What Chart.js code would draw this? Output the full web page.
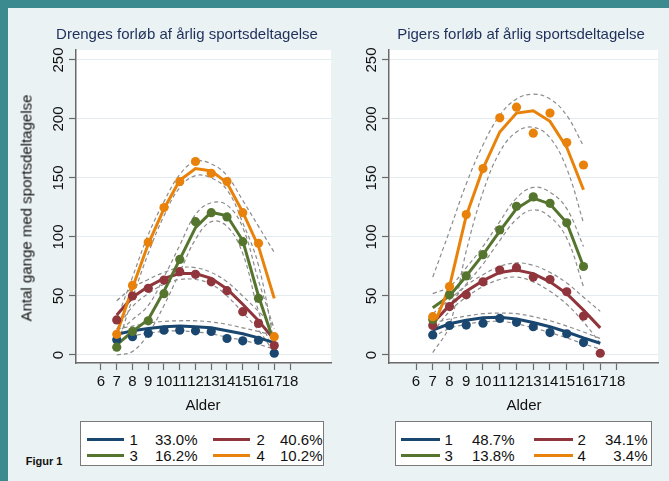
<!DOCTYPE html>
<html><head><meta charset="utf-8">
<script src="https://cdn.jsdelivr.net/npm/chart.js@4.4.1/dist/chart.umd.min.js"></script>
<style>
html,body{margin:0;padding:0;}
body{width:669px;height:481px;background:#3b8a8f;position:relative;overflow:hidden;font-family:"Liberation Sans",Arial,Helvetica,sans-serif;}
#panel{position:absolute;left:8px;top:8px;width:661px;height:473px;background:#eaf2f3;}
canvas{position:absolute;}
.t{position:absolute;white-space:nowrap;transform:translate(-50%,-50%);line-height:1;}
.title{font-size:15px;color:#1e2f5a;}
.ax{font-size:15px;color:#111;}
.box{position:absolute;top:421px;height:43px;background:#fff;border:1.5px solid #7a7a7a;}
.ln{position:absolute;height:3px;}
.lt{position:absolute;font-size:15px;color:#111;line-height:1;white-space:nowrap;}
.r{transform:translate(-100%,-50%);}
.l{transform:translate(0,-50%);}
</style></head>
<body>
<div id="panel"></div>
<canvas id="cb" width="330" height="392" style="left:8px;top:8px;width:330px;height:392px"></canvas>
<canvas id="cg" width="331" height="392" style="left:338px;top:8px;width:331px;height:392px"></canvas>

<div class="t title" style="left:187px;top:33px">Drenges forløb af årlig sportsdeltagelse</div>
<div class="t title" style="left:521px;top:33px">Pigers forløb af årlig sportsdeltagelse</div>
<div class="t ax" style="left:26px;top:208px;transform:translate(-50%,-50%) rotate(-90deg)">Antal gange med sportsdeltagelse</div>
<div class="t ax" style="left:203px;top:404px">Alder</div>
<div class="t ax" style="left:524px;top:404px">Alder</div>
<div class="t" style="left:44px;top:461px;font-size:11px;font-weight:bold;color:#111">Figur 1</div>

<div id="legB" class="box" style="left:80px;width:242px"></div>
<div id="legG" class="box" style="left:395px;width:255px"></div>

<script>
// ---- data ----
const ages = [7, 8, 9, 10, 11, 12, 13, 14, 15, 16, 17];
const xTickValues = [6, 7, 8, 9, 10, 11, 12, 13, 14, 15, 16, 17, 18];
const yTickValues = [0, 50, 100, 150, 200, 250];
const groupLabels = ['1', '2', '3', '4'];
const boysShares = ['33.0%', '40.6%', '16.2%', '10.2%'];
const girlsShares = ['48.7%', '34.1%', '13.8%', '3.4%'];

// Boys
const b1Obs = [13, 15.5, 18.4, 21, 21, 20.5, 20, 14, 12, 12.5, 1.5];
const b1Fit = [17.5, 20.5, 22.5, 24, 24.5, 24, 23, 20.5, 18, 14.5, 10.5];
const b1Hi  = [22, 24.5, 27, 28.5, 29, 29, 28, 26, 23, 20, 16];
const b1Lo  = [12, 16, 18.5, 20, 20.5, 19.5, 18, 15, 12.5, 9, 5];

const b2Obs = [29.7, 50, 56.5, 63.5, 70.6, 68.4, 62, 54.5, 36.7, 26.8, 8];
const b2Fit = [34, 49, 58, 65, 69, 69, 65, 56, 43, 29, 13];
const b2Hi  = [46, 57, 64, 70, 74, 74, 70, 62, 50, 37, 24];
const b2Lo  = [22, 41, 52, 60, 64, 64, 60, 50, 36, 21, 2];

const b3Obs = [6.6, 20, 29, 52, 81, 113, 120.6, 117, 96, 48, null];
const b3Fit = [8.5, 20, 30, 54, 81, 108, 121, 118, 97, 50, 10];
const b3Hi  = [18, 30, 42, 66, 93, 119, 129, 127, 108, 63, 22];
const b3Lo  = [0, 3, 18, 42, 70, 98, 113, 109, 86, 37, 0];

const b4Obs = [17.5, 59, 95.5, 125, 147, 164, 154, 147, 120.6, 94.6, 15.5];
const b4Fit = [18, 57, 94, 124, 148, 158, 156, 146, 121, 92, 48];
const b4Hi  = [30, 66, 102, 130, 153, 164, 162, 152, 131, 109, 87];
const b4Lo  = [6, 48, 86, 118, 142, 152, 150, 140, 112, 76, 10];

// Girls
const g1Obs = [17, 25, 25.4, 27, 31, 27.7, 24, 19, 18, 10.5, null];
const g1Fit = [21, 26.5, 29.5, 31.5, 32, 30.5, 27.5, 24, 19.5, 14.5, 10];
const g1Hi  = [27, 30.5, 33, 35, 35.5, 35, 32.5, 29, 24.5, 19.5, 14];
const g1Lo  = [15, 22.5, 26, 28, 28.5, 26.5, 23, 19, 14.5, 9.5, 5];

const g2Obs = [25, 41, 51, 62, 72, 74, 66, 64, 53.6, 33, 1.5];
const g2Fit = [27, 42, 54, 63, 70, 72, 69, 62, 52, 38, 23];
const g2Hi  = [35, 47, 59, 68, 75, 78, 76, 70, 61, 49, 37];
const g2Lo  = [19, 37, 49, 58, 64, 66, 62, 54, 43, 28, 10];

const g3Obs = [30, 51, 67, 85, 106, 126, 134, 128.5, 112, 75, null];
const g3Fit = [40, 50, 67, 85, 105, 124, 133, 128, 112, 75, null];
const g3Hi  = [52, 58, 74, 92, 113, 133, 142, 138, 124, 92, null];
const g3Lo  = [28, 43, 60, 77, 97, 115, 123, 117, 99, 58, null];

const g4Obs = [32.5, 58, 119, 158, 201, 210, 188, 205, 180, 161, null];
const g4Fit = [23, 58, 118, 158, 189, 205, 207, 198, 176, 140, null];
const g4Hi  = [66, 105, 145, 178, 203, 217, 221, 217, 203, 177, null];
const g4Lo  = [2, 25, 88, 138, 172, 189, 193, 184, 158, 112, null];

const colors = ['#1a476f', '#90353b', '#55752f', '#e8820a'];
const FONT = '"Liberation Sans", Arial, Helvetica, sans-serif';

function pts(arr) { return ages.map((a, i) => ({ x: a, y: arr[i] })); }

function buildDatasets(groups) {
  const ds = [];
  // orange first so it is drawn on top
  for (let gi = groups.length - 1; gi >= 0; gi--) {
    const g = groups[gi], c = colors[gi];
    ds.push({ data: pts(g.obs), showLine: false, pointRadius: 4.6, pointBackgroundColor: c, pointBorderColor: c, pointBorderWidth: 0, order: 0 });
    ds.push({ data: pts(g.fit), borderColor: c, borderWidth: 3, pointRadius: 0, tension: 0, fill: false, order: 1 });
    ds.push({ data: pts(g.hi), borderColor: '#8c8c8c', borderWidth: 1.2, borderDash: [4, 3], pointRadius: 0, tension: 0.4, fill: false, order: 2 });
    ds.push({ data: pts(g.lo), borderColor: '#8c8c8c', borderWidth: 1.2, borderDash: [4, 3], pointRadius: 0, tension: 0.4, fill: false, order: 2 });
  }
  return ds;
}

const whiteArea = {
  id: 'whiteArea',
  beforeDraw(chart) {
    const { ctx, chartArea: a } = chart;
    ctx.save();
    ctx.fillStyle = '#ffffff';
    ctx.fillRect(a.left, a.top, a.right - a.left, a.bottom - a.top);
    ctx.restore();
  }
};

function makeChart(id, groups, xmin, xmax, yWidth, padRight) {
  new Chart(document.getElementById(id), {
    type: 'line',
    data: { datasets: buildDatasets(groups) },
    plugins: [whiteArea],
    options: {
      responsive: false,
      animation: false,
      layout: { padding: { left: 0, right: padRight, top: 42, bottom: 0 } },
      plugins: { legend: { display: false }, tooltip: { enabled: false }, title: { display: false } },
      scales: {
        x: {
          type: 'linear', min: xmin, max: xmax,
          afterBuildTicks: s => { s.ticks = xTickValues.map(v => ({ value: v })); },
          afterFit: s => { s.height = 37; },
          grid: { drawOnChartArea: false, drawTicks: true, tickLength: 7, tickColor: '#6a6a6a', tickWidth: 1.2 },
          border: { display: true, color: '#6a6a6a', width: 1.5 },
          ticks: { autoSkip: false, maxRotation: 0, minRotation: 0, padding: 3, color: '#111', font: { family: FONT, size: 15 } }
        },
        y: {
          type: 'linear', min: -6.78, max: 258.47,
          afterBuildTicks: s => { s.ticks = yTickValues.map(v => ({ value: v })); },
          afterFit: s => { s.width = yWidth; },
          grid: { color: '#e3ebef', lineWidth: 1, drawTicks: true, tickLength: 7, tickColor: '#6a6a6a', tickWidth: 1.2 },
          border: { display: true, color: '#6a6a6a', width: 1.5 },
          ticks: { minRotation: 90, maxRotation: 90, crossAlign: 'center', padding: -2, color: '#111', font: { family: FONT, size: 15 } }
        }
      }
    }
  });
}

makeChart('cb', [
  { obs: b1Obs, fit: b1Fit, hi: b1Hi, lo: b1Lo },
  { obs: b2Obs, fit: b2Fit, hi: b2Hi, lo: b2Lo },
  { obs: b3Obs, fit: b3Fit, hi: b3Hi, lo: b3Lo },
  { obs: b4Obs, fit: b4Fit, hi: b4Hi, lo: b4Lo }
], 4.413, 20.603, 68, 7);

makeChart('cg', [
  { obs: g1Obs, fit: g1Fit, hi: g1Hi, lo: g1Lo },
  { obs: g2Obs, fit: g2Fit, hi: g2Hi, lo: g2Lo },
  { obs: g3Obs, fit: g3Fit, hi: g3Hi, lo: g3Lo },
  { obs: g4Obs, fit: g4Fit, hi: g4Hi, lo: g4Lo }
], 4.388, 20.448, 51, 11);

// ---- legends (HTML, real text) ----
function legend(boxId, boxLeft, shares, cols) {
  const box = document.getElementById(boxId);
  const rows = [17, 33];
  for (let i = 0; i < 4; i++) {
    const col = cols[i % 2], y = rows[Math.floor(i / 2)];
    const ln = document.createElement('div');
    ln.className = 'ln';
    ln.style.cssText = `left:${col.l0 - boxLeft}px;width:${col.l1 - col.l0}px;top:${y - 1.5}px;background:${colors[i]}`;
    box.appendChild(ln);
    const n = document.createElement('div');
    n.className = 'lt l';
    n.style.cssText = `left:${col.num - boxLeft}px;top:${y}px`;
    n.textContent = groupLabels[i];
    box.appendChild(n);
    const p = document.createElement('div');
    p.className = 'lt r';
    p.style.cssText = `left:${col.pct - boxLeft}px;top:${y}px`;
    p.textContent = shares[i];
    box.appendChild(p);
  }
}
legend('legB', 81.5, boysShares, [{ l0: 87, l1: 124, num: 130, pct: 198 }, { l0: 213, l1: 250, num: 257, pct: 323 }]);
legend('legG', 396.5, girlsShares, [{ l0: 401, l1: 440, num: 445, pct: 515 }, { l0: 534, l1: 573, num: 578, pct: 648 }]);
</script>
</body></html>
